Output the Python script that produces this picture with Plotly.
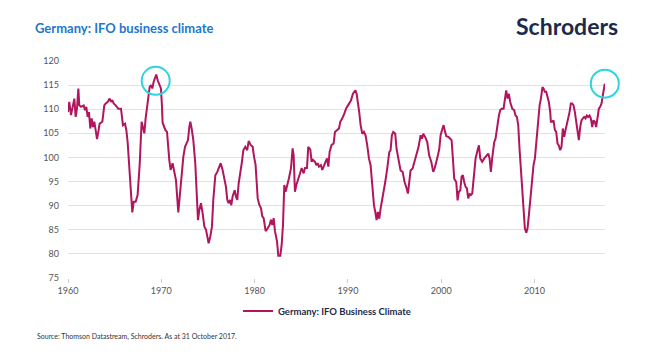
import plotly.graph_objects as go

# Decimal year of each reading
years = [
    1960.00, 1960.14, 1960.32, 1960.54, 1960.68, 1960.82, 1960.96, 1961.11, 1961.21, 1961.39,
    1961.68, 1961.82, 1961.96, 1962.11, 1962.25, 1962.39, 1962.54, 1962.68, 1962.82, 1962.96,
    1963.11, 1963.25, 1963.39, 1963.68, 1963.89, 1964.04, 1964.25, 1964.46, 1964.61, 1964.75,
    1964.89, 1965.11, 1965.39, 1965.68, 1965.89, 1966.11, 1966.25, 1966.39, 1966.54, 1966.68,
    1966.89, 1967.04, 1967.25, 1967.46, 1967.68, 1967.89, 1968.04, 1968.18, 1968.32, 1968.46,
    1968.61, 1968.75, 1968.89, 1969.04, 1969.18, 1969.32, 1969.46, 1969.61, 1969.82, 1969.96,
    1970.06, 1970.14, 1970.43, 1970.61, 1970.86, 1971.00, 1971.21, 1971.39, 1971.57, 1971.82,
    1972.00, 1972.18, 1972.36, 1972.54, 1972.71, 1972.86, 1973.00, 1973.11, 1973.25, 1973.43,
    1973.64, 1973.79, 1973.93, 1974.07, 1974.25, 1974.43, 1974.61, 1974.79, 1974.96, 1975.07,
    1975.25, 1975.43, 1975.57, 1975.79, 1976.00, 1976.21, 1976.36, 1976.57, 1976.75, 1976.93,
    1977.07, 1977.21, 1977.36, 1977.50, 1977.64, 1977.86, 1978.00, 1978.14, 1978.29, 1978.50,
    1978.64, 1978.79, 1979.00, 1979.21, 1979.36, 1979.57, 1979.79, 1979.95, 1980.10, 1980.33,
    1980.50, 1980.68, 1980.82, 1980.97, 1981.18, 1981.40, 1981.61, 1981.75, 1981.90, 1982.04,
    1982.18, 1982.40, 1982.54, 1982.75, 1982.90, 1983.04, 1983.18, 1983.32, 1983.54, 1983.68,
    1983.90, 1984.07, 1984.18, 1984.32, 1984.47, 1984.61, 1984.82, 1985.04, 1985.25, 1985.40,
    1985.61, 1985.75, 1985.97, 1986.11, 1986.25, 1986.47, 1986.61, 1986.75, 1986.90, 1987.11,
    1987.25, 1987.40, 1987.61, 1987.75, 1987.90, 1988.04, 1988.25, 1988.47, 1988.61, 1988.82,
    1989.04, 1989.18, 1989.40, 1989.61, 1989.82, 1990.04, 1990.32, 1990.54, 1990.80, 1990.93,
    1991.07, 1991.21, 1991.36, 1991.54, 1991.71, 1991.89, 1992.07, 1992.25, 1992.43, 1992.61,
    1992.79, 1992.93, 1993.07, 1993.21, 1993.36, 1993.50, 1993.64, 1993.79, 1994.00, 1994.21,
    1994.43, 1994.57, 1994.71, 1994.86, 1995.07, 1995.21, 1995.43, 1995.64, 1995.86, 1996.07,
    1996.29, 1996.43, 1996.57, 1996.71, 1996.93, 1997.14, 1997.36, 1997.57, 1997.79, 1997.93,
    1998.07, 1998.29, 1998.50, 1998.71, 1998.93, 1999.14, 1999.29, 1999.43, 1999.64, 1999.79,
    1999.93, 2000.07, 2000.25, 2000.40, 2000.55, 2000.80, 2001.11, 2001.25, 2001.39, 2001.61,
    2001.75, 2001.89, 2002.04, 2002.18, 2002.32, 2002.46, 2002.61, 2002.75, 2002.89, 2003.04,
    2003.18, 2003.32, 2003.54, 2003.68, 2003.89, 2004.04, 2004.18, 2004.39, 2004.61, 2004.82,
    2005.04, 2005.18, 2005.32, 2005.46, 2005.68, 2005.82, 2005.96, 2006.18, 2006.32, 2006.46,
    2006.68, 2006.82, 2006.96, 2007.11, 2007.25, 2007.39, 2007.61, 2007.82, 2007.96, 2008.11,
    2008.25, 2008.39, 2008.54, 2008.75, 2008.96, 2009.11, 2009.25, 2009.39, 2009.54, 2009.75,
    2009.89, 2010.04, 2010.25, 2010.39, 2010.54, 2010.68, 2010.85, 2010.96, 2011.10, 2011.25,
    2011.39, 2011.53, 2011.68, 2011.75, 2011.89, 2012.03, 2012.18, 2012.32, 2012.46, 2012.60,
    2012.75, 2012.89, 2013.03, 2013.18, 2013.32, 2013.46, 2013.60, 2013.75, 2013.89, 2014.03,
    2014.18, 2014.32, 2014.46, 2014.60, 2014.75, 2014.89, 2015.03, 2015.18, 2015.32, 2015.46,
    2015.60, 2015.75, 2015.89, 2016.03, 2016.18, 2016.32, 2016.46, 2016.60, 2016.75, 2016.89,
    2017.03, 2017.18, 2017.32, 2017.43, 2017.53,
]

# IFO business climate index readings
ifo = [
    109.4, 111.5, 108.8, 110.8, 112.2, 108.4, 110.1, 114.3, 110.8, 110.5,
    110.8, 109.8, 110.5, 108.4, 109.4, 106.0, 108.1, 106.3, 107.4, 105.7,
    103.8, 105.3, 107.0, 107.4, 110.8, 111.2, 111.5, 112.2, 111.5, 111.9,
    111.2, 110.8, 110.1, 110.1, 106.7, 107.0, 105.7, 103.2, 99.1, 93.6,
    88.6, 90.8, 90.8, 92.2, 98.4, 107.4, 106.3, 105.0, 108.1, 110.1,
    112.9, 114.6, 115.0, 114.3, 115.7, 116.3, 117.2, 116.0, 115.0, 114.3,
    111.0, 107.2, 105.7, 105.3, 99.4, 97.4, 98.8, 97.0, 95.3, 88.6,
    92.2, 97.4, 100.1, 102.2, 103.2, 103.6, 106.3, 107.4, 106.0, 103.6,
    98.8, 93.2, 87.0, 89.1, 90.5, 88.4, 85.7, 85.0, 83.6, 82.2,
    83.6, 85.7, 91.2, 96.3, 97.0, 98.1, 98.8, 97.4, 95.3, 93.9,
    91.2, 90.5, 91.2, 90.1, 91.9, 93.2, 91.9, 91.2, 94.6, 98.1,
    99.1, 101.5, 102.2, 101.5, 103.4, 102.6, 102.2, 100.0, 98.5, 91.5,
    90.2, 89.5, 87.8, 87.4, 84.7, 85.3, 86.0, 87.1, 86.0, 87.4,
    84.7, 82.6, 79.6, 79.6, 81.9, 86.0, 94.3, 92.9, 94.3, 95.7,
    97.8, 101.9, 100.5, 92.9, 94.3, 95.0, 96.4, 97.8, 96.7, 97.8,
    97.8, 102.2, 101.6, 99.1, 99.5, 99.1, 98.4, 98.8, 98.1, 98.4,
    97.4, 98.1, 99.1, 99.8, 98.1, 101.2, 102.6, 102.9, 105.3, 105.7,
    106.0, 107.4, 108.1, 109.1, 110.2, 110.9, 111.8, 113.2, 113.9, 113.2,
    111.5, 109.4, 106.7, 104.9, 105.3, 104.6, 102.5, 99.8, 98.4, 93.6,
    90.1, 88.7, 87.0, 88.7, 87.3, 89.4, 90.8, 92.2, 94.9, 97.7,
    101.1, 101.5, 104.6, 105.3, 104.9, 101.8, 99.1, 97.3, 97.0, 94.9,
    93.6, 92.5, 94.9, 97.3, 97.7, 99.1, 100.4, 102.2, 104.6, 103.9,
    104.9, 104.2, 103.2, 100.4, 99.1, 97.0, 97.7, 99.1, 100.4, 101.8,
    104.6, 105.6, 106.7, 105.4, 104.4, 104.2, 103.6, 99.8, 95.6, 94.9,
    91.1, 92.9, 93.2, 96.0, 96.3, 94.9, 93.9, 93.6, 91.5, 92.5,
    92.2, 92.5, 96.3, 99.8, 101.5, 102.5, 99.8, 99.1, 99.8, 100.4,
    100.8, 99.8, 97.0, 99.8, 103.2, 103.9, 106.0, 108.7, 109.8, 110.1,
    110.1, 112.2, 113.9, 112.2, 113.2, 111.5, 110.1, 109.8, 108.7, 108.4,
    106.7, 101.8, 97.0, 90.8, 85.3, 84.4, 85.3, 88.0, 91.5, 95.6,
    98.4, 99.8, 104.6, 106.0, 110.8, 112.2, 114.6, 114.3, 113.6, 113.6,
    112.6, 111.5, 109.4, 107.4, 107.4, 107.7, 105.7, 105.3, 102.9, 102.5,
    101.5, 102.2, 106.0, 104.3, 105.7, 106.7, 108.1, 109.4, 111.2, 111.2,
    110.8, 109.4, 107.7, 105.7, 103.6, 106.3, 107.7, 108.1, 108.4, 108.1,
    108.7, 108.4, 108.7, 108.1, 106.3, 107.7, 107.4, 106.3, 108.4, 110.1,
    110.5, 111.2, 112.9, 113.9, 115.3,
]

x_ticks = [1960, 1970, 1980, 1990, 2000, 2010]
y_ticks = [75, 80, 85, 90, 95, 100, 105, 110, 115, 120]

series_name = "Germany: IFO Business Climate"
title_text = "Germany: IFO business climate"
source_text = "Source: Thomson Datastream, Schroders. As at 31 October 2017."
brand_text = "Schroders"

# highlighted points (circled): 1969 peak region and latest reading
highlight_years = [1969.4, years[-1]]
highlight_vals = [115.9, ifo[-1]]

x_min, x_max = years[0], years[-1] + 0.02
y_min, y_max = 75, 120

LINE = "#b0155e"
CYAN = "#2fd3e2"
NAVY = "#1b2a4c"
GREY = "#555555"
FONT = "Lato"

fig = go.Figure()
fig.add_trace(go.Scatter(
    x=years, y=ifo, mode="lines", name=series_name,
    line=dict(color=LINE, width=2), showlegend=True,
))

W, H = 669, 361
L, R, T, B = 68, 64, 61, 83
pw, ph = W - L - R, H - T - B

shapes = []
r_px = 14
for hx, hy in zip(highlight_years, highlight_vals):
    px = (hx - x_min) / (x_max - x_min)
    py = (hy - y_min) / (y_max - y_min)
    rx, ry = r_px / pw, r_px / ph
    shapes.append(dict(type="circle", xref="paper", yref="paper",
                       x0=px - rx, x1=px + rx, y0=py - ry, y1=py + ry,
                       line=dict(color=CYAN, width=2), fillcolor="rgba(0,0,0,0)"))

fig.update_layout(
    width=W, height=H,
    margin=dict(l=L, r=R, t=T, b=B),
    paper_bgcolor="white", plot_bgcolor="white",
    font=dict(family=FONT, color=GREY, size=9),
    title=dict(text=title_text, xref="container", yref="container",
               x=35 / W, xanchor="left", y=1 - 28 / H, yanchor="middle",
               font=dict(family=FONT, size=13, color="#1f77c9", weight="bold")),
    xaxis=dict(range=[x_min, x_max], tickvals=x_ticks, ticktext=[str(v) for v in x_ticks],
               showgrid=False, zeroline=False, showline=False,
               ticks="outside", ticklen=4, tickcolor="#cccccc",
               tickfont=dict(size=9, color=GREY, family=FONT)),
    yaxis=dict(range=[y_min, y_max], tickvals=y_ticks, showgrid=True,
               gridcolor="#e2e2e2", gridwidth=1, zeroline=False, showline=False,
               ticks="", ticklabelstandoff=8,
               tickfont=dict(size=9, color=GREY, family=FONT)),
    showlegend=True,
    legend=dict(orientation="h", xref="paper", yref="paper",
                x=(238 - L) / pw, xanchor="left", y=(H - B - 311) / ph, yanchor="middle",
                font=dict(family=FONT, size=9.5, color=NAVY, weight="bold"),
                bgcolor="rgba(0,0,0,0)", itemwidth=30),
    shapes=shapes,
    annotations=[
        dict(text=brand_text, xref="paper", yref="paper",
             x=(620 - L) / pw, xanchor="right", y=(H - B - 26) / ph, yanchor="middle",
             showarrow=False, font=dict(family=FONT, size=23, color=NAVY, weight="bold")),
        dict(text=source_text, xref="paper", yref="paper",
             x=(35 - L) / pw, xanchor="left", y=(H - B - 336) / ph, yanchor="middle",
             showarrow=False, font=dict(family=FONT, size=7, color="#333333")),
    ],
)

fig.write_html("out.html", config={"displayModeBar": False},
               post_script="document.body.style.margin='0px';")
